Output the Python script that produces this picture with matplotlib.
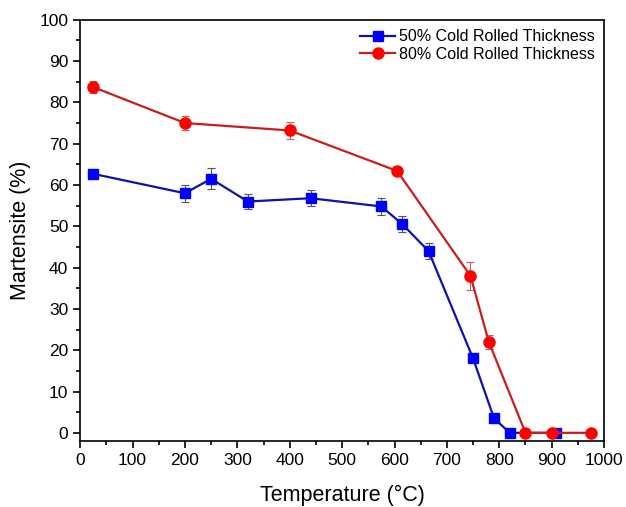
import matplotlib
matplotlib.use('Agg')
import matplotlib.pyplot as plt
from matplotlib.ticker import MultipleLocator

plt.rcParams['font.family'] = ['Liberation Sans', 'DejaVu Sans']

# 50% cold rolled
t50 = [25, 200, 250, 320, 440, 575, 615, 665, 750, 790, 820, 908]
m50 = [62.7, 58.0, 61.5, 56.0, 56.8, 54.8, 50.5, 44.0, 18.0, 3.5, 0.0, 0.0]
e50 = [1.0, 2.0, 2.5, 1.8, 2.0, 2.0, 2.0, 2.0, 0.0, 0.0, 0.0, 0.0]

# 80% cold rolled
t80 = [25, 200, 400, 605, 745, 780, 850, 900, 975]
m80 = [83.7, 75.0, 73.2, 63.4, 38.0, 22.0, 0.0, 0.0, 0.0]
e80 = [1.5, 1.7, 2.0, 0.5, 3.4, 1.6, 0.0, 0.0, 0.0]

fig = plt.figure(figsize=(6.26, 5.07), dpi=100)
ax = fig.add_axes([0.128, 0.130, 0.837, 0.831])

ax.errorbar(t50, m50, yerr=e50, fmt='none', ecolor='#555555', elinewidth=0.8, capsize=3, capthick=0.8, zorder=2)
ax.errorbar(t80, m80, yerr=e80, fmt='none', ecolor='#c06060', elinewidth=0.8, capsize=3, capthick=0.8, zorder=2)
ax.plot(t50, m50, color='#1010b0', lw=1.6, marker='s', markersize=7,
        markerfacecolor='#0000ff', markeredgecolor='#0000ff', label='50% Cold Rolled Thickness', zorder=3)
ax.plot(t80, m80, color='#c81e1e', lw=1.6, marker='o', markersize=8,
        markerfacecolor='#ff0000', markeredgecolor='#ff0000', label='80% Cold Rolled Thickness', zorder=4)

ax.set_xlim(0, 1000)
ax.set_ylim(-2, 100)
ax.xaxis.set_major_locator(MultipleLocator(100))
ax.xaxis.set_minor_locator(MultipleLocator(50))
ax.yaxis.set_major_locator(MultipleLocator(10))
ax.yaxis.set_minor_locator(MultipleLocator(5))
ax.tick_params(which='both', direction='out', top=False, right=False, labelsize=12.5, width=1.2)
ax.tick_params(which='major', length=5)
ax.tick_params(which='minor', length=3)
for s in ax.spines.values():
    s.set_linewidth(1.2)

ax.set_xlabel('Temperature (°C)', fontsize=15.5, labelpad=12)
ax.set_ylabel('Martensite (%)', fontsize=15.5, labelpad=6)

ax.legend(loc='upper right', frameon=False, fontsize=11.5, handlelength=2.2,
          borderaxespad=0.2, handletextpad=0.2, labelspacing=0.15)

fig.savefig('out.png', dpi=100)
